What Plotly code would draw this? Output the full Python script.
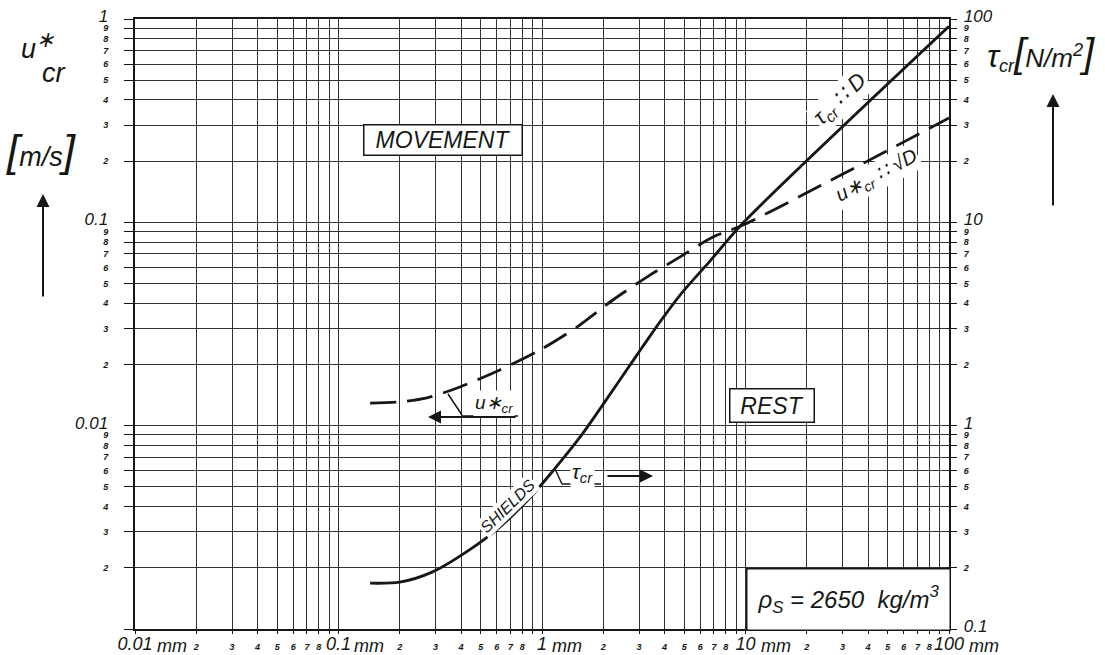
import math
import plotly.graph_objects as go

# Shields curve: grain diameter D [mm] -> critical bed shear stress tau_cr [N/m^2]
d_tau = [0.143, 0.20, 0.29, 0.44, 0.62, 0.87, 1.13, 1.54, 2.08, 2.93, 3.80, 4.77, 6.69, 9.72, 100]
tau_cr = [0.168, 0.170, 0.191, 0.245, 0.317, 0.441, 0.598, 0.88, 1.35, 2.23, 3.24, 4.39, 6.45, 9.92, 92]

# critical shear velocity: grain diameter D [mm] -> u*_cr [m/s]
d_u = [0.143, 0.20, 0.272, 0.395, 0.62, 0.98, 1.49, 2.23, 3.39, 4.77, 6.92, 9.72, 100]
u_cr = [0.0129, 0.0131, 0.0137, 0.0155, 0.0188, 0.0236, 0.0306, 0.0415, 0.0550, 0.0676, 0.0847, 0.0970, 0.326]

# log-paper ticks
minor_digits = [2, 3, 4, 5, 6, 7, 8, 9]
x_decades = [0.01, 0.1, 1, 10, 100]
x_major_text = ["0.01", "0.1", "1", "10", "100"]
x_unit_shift = [20, 13, 8, 13, 18]
yl_decades = [0.001, 0.01, 0.1, 1]
yl_major_text = ["", "0.01", "0.1", "1"]
yr_decades = [0.1, 1, 10, 100]
yr_major_text = ["0.1", "1", "10", "100"]

FONT = "Liberation Sans"
INK = "#141814"
GRID = "#2f352f"


def big(txt, size=17):
    return f'<span style="font-size:{size}px;font-weight:normal">{txt}</span>'


def log_ticks(decades, major_text, minor_labels, size=17):
    vals, text = [], []
    for i, (d, t) in enumerate(zip(decades, major_text)):
        vals.append(d)
        text.append(big(t, size) if t else "")
        if i < len(decades) - 1:
            for m in minor_digits:
                vals.append(d * m)
                text.append(str(m) if m in minor_labels else "")
    return vals, text


xv, xt = log_ticks(x_decades, x_major_text, [2, 3, 4, 5, 6, 7, 8], size=18)
ylv, ylt = log_ticks(yl_decades, yl_major_text, minor_digits)
yrv, yrt = log_ticks(yr_decades, yr_major_text, minor_digits)

fig = go.Figure()
fig.add_trace(go.Scatter(
    x=d_u, y=u_cr, mode="lines", yaxis="y",
    line=dict(color=INK, width=2.8, dash="26px,11px", shape="spline", smoothing=0.8),
    showlegend=False, hoverinfo="skip"))
fig.add_trace(go.Scatter(
    x=d_tau, y=tau_cr, mode="lines", yaxis="y2",
    line=dict(color=INK, width=2.8, shape="spline", smoothing=0.8),
    showlegend=False, hoverinfo="skip"))

# plot frame in pixels, used to place the lettering
L, R, T, B = 135, 949, 19, 629


def px(x):
    return (x - L) / (R - L)


def py(y):
    return (B - y) / (B - T)


tickfont = dict(family=FONT, size=9, color=INK, style="italic", weight="bold")

fig.update_layout(
    width=1105, height=655,
    margin=dict(l=L, r=1105 - R, t=T, b=655 - B, pad=0, autoexpand=False),
    paper_bgcolor="white", plot_bgcolor="white",
    font=dict(family=FONT, color=INK, style="italic"),
    xaxis=dict(type="log", range=[-2, 2], tickmode="array", tickvals=xv, ticktext=xt,
               tickangle=0, ticks="outside", ticklen=3, tickcolor=INK,
               showgrid=True, gridcolor=GRID, gridwidth=1.2,
               showline=True, linecolor=INK, linewidth=2, mirror=True,
               zeroline=False, tickfont=tickfont, ticklabelstandoff=5, automargin=False),
    yaxis=dict(type="log", range=[-3, 0], tickmode="array", tickvals=ylv, ticktext=ylt,
               ticks="outside", ticklen=9, tickcolor=INK,
               showgrid=True, gridcolor=GRID, gridwidth=1.2,
               showline=True, linecolor=INK, linewidth=2, mirror=True,
               zeroline=False, tickfont=tickfont, ticklabelstandoff=14, automargin=False),
    yaxis2=dict(type="log", range=[-1, 2], overlaying="y", side="right",
                tickmode="array", tickvals=yrv, ticktext=yrt,
                ticks="outside", ticklen=6, tickcolor=INK, showgrid=False,
                showline=True, linecolor=INK, linewidth=2,
                zeroline=False, tickfont=tickfont, ticklabelstandoff=5, automargin=False),
)

ann = []

# unit after each decade label of the diameter axis
for d, sh in zip(x_decades, x_unit_shift):
    ann.append(dict(x=math.log10(d), y=0, xref="x", yref="paper", text="mm",
                    showarrow=False, xanchor="left", yanchor="top", xshift=sh, yshift=-5,
                    font=dict(family=FONT, size=18, color=INK, style="italic")))


def text(x, y, s, size, angle=0, bg=None, **kw):
    d = dict(x=px(x), y=py(y), xref="paper", yref="paper", text=s, showarrow=False,
             font=dict(family=FONT, size=size, color=INK, style="italic"),
             textangle=angle, xanchor="center", yanchor="middle")
    if bg:
        d["bgcolor"] = bg
    d.update(kw)
    ann.append(d)


def arrow(hx, hy, tx, ty):
    ann.append(dict(x=px(hx), y=py(hy), xref="paper", yref="paper", text="",
                    showarrow=True, ax=tx - hx, ay=ty - hy, axref="pixel", ayref="pixel",
                    arrowhead=2, arrowsize=1.3, arrowwidth=2, arrowcolor=INK))


# axis titles
text(28, 49, "u", 27)
text(45, 39, "\u2217", 22)
text(54, 73, "cr", 27)
text(41, 150, '<span style="font-size:44px;font-weight:lighter">[</span>m/s'
     '<span style="font-size:44px;font-weight:lighter">]</span>', 27)
arrow(43, 194, 43, 298)
text(1041, 54, '<span style="font-size:32px">τ</span><sub>cr</sub>'
     '<span style="font-size:40px">[</span>N/m<sup>2</sup>'
     '<span style="font-size:40px">]</span>', 26)
arrow(1053, 94, 1053, 207)

# regions
text(443, 140, "MOVEMENT", 23, bg="white", bordercolor=INK, borderwidth=1.5,
     borderpad=0, width=157, height=29)
text(772, 405, "REST", 23, bg="white", bordercolor=INK, borderwidth=1.5,
     borderpad=0, width=83, height=32)
text(848, 599, "ρ<sub>S</sub> = 2650  kg/m<sup>3</sup>", 24, bg="white",
     bordercolor=INK, borderwidth=1.5, borderpad=0, width=202, height=60)

# curve labels
text(840, 100, "τ<sub>cr</sub> ∷ D", 22, angle=-44, bg="white")
text(876, 176, "u∗<sub>cr</sub> ∷ √D", 20, angle=-28, bg="white")
text(494, 404, "u∗<sub>cr</sub>", 19, bg="white")
arrow(428, 417, 517, 417)
text(582, 473, "τ<sub>cr</sub>", 21, bg="white")
arrow(653, 476, 606, 476)
text(507, 506, "SHIELDS", 16, angle=-44, bg="white")

fig.update_layout(annotations=ann)

shapes = []


def seg(x0, y0, x1, y1, w=1.5):
    shapes.append(dict(type="line", xref="paper", yref="paper",
                       x0=px(x0), y0=py(y0), x1=px(x1), y1=py(y1),
                       line=dict(color=INK, width=w)))


seg(448, 394, 462, 415)
seg(462, 416, 518, 416)
seg(555, 469, 562, 484)
seg(562, 484, 601, 484)
fig.update_layout(shapes=shapes)

fig.write_html("out.html")
